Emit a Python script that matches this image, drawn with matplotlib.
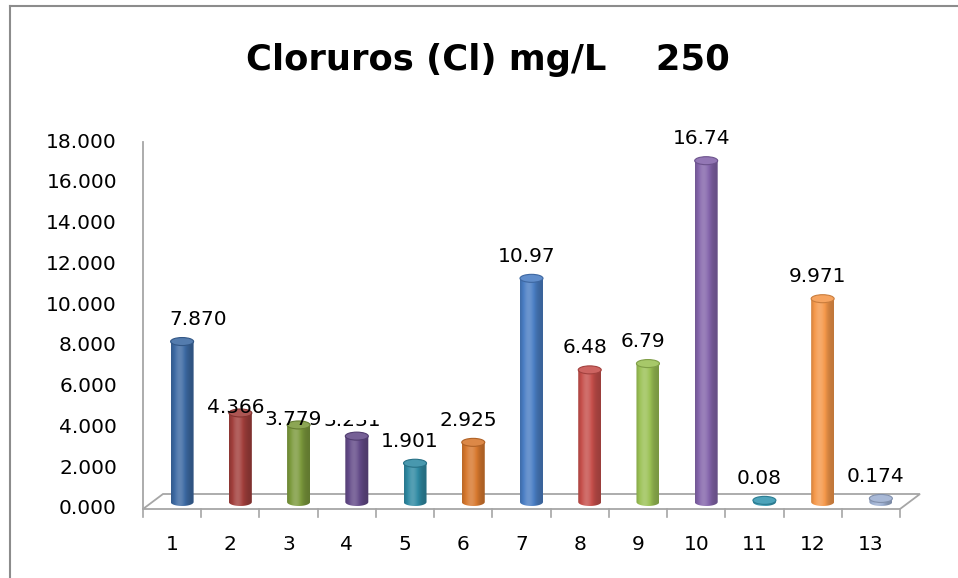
import numpy as np
import matplotlib
matplotlib.use("Agg")
import matplotlib.pyplot as plt
from matplotlib.patches import Polygon, Ellipse
from matplotlib.lines import Line2D
from matplotlib.colors import to_rgb
from matplotlib.transforms import Bbox

# ---- data ----
categories = ["1", "2", "3", "4", "5", "6", "7", "8", "9", "10", "11", "12", "13"]
values = [7.870, 4.366, 3.779, 3.231, 1.901, 2.925, 10.97, 6.48, 6.79, 16.74, 0.08, 9.971, 0.174]
value_labels = ["7.870", "4.366", "3.779", "3.231", "1.901", "2.925", "10.97", "6.48",
                "6.79", "16.74", "0.08", "9.971", "0.174"]
y_ticks = [0, 2, 4, 6, 8, 10, 12, 14, 16, 18]
title = "Cloruros (Cl) mg/L    250"

# ---- style ----
bar_colors = ["#3D6AA3", "#A23F3C", "#7C9A3D", "#634A88", "#2F8AA3", "#D7782E",
              "#4A7EC4", "#C64F4B", "#9BC155", "#8465AB", "#3597B1", "#F5984A", "#9DB0D2"]
W, H = 958, 578
fig = plt.figure(figsize=(W / 100, H / 100), dpi=100)

# plot area in pixels (front plane)
x0_px, x1_px = 143, 900
y0_px, y1_px = 509, 142
ax = fig.add_axes([x0_px / W, (H - y0_px) / H, (x1_px - x0_px) / W, (y0_px - y1_px) / H])
ax.set_xlim(0.5, 13.5)
ax.set_ylim(0, 18)
ax.axis("off")

px_x = (x1_px - x0_px) / 13.0   # pixels per category
px_y = (y0_px - y1_px) / 18.0   # pixels per value unit


def dx(p):
    return p / px_x


def dy(p):
    return p / px_y


grid_col = "#A6A6A6"
depth_x, depth_y = dx(20), dy(15)
fs = 14.5

# floor
floor = Polygon([(0.5, 0), (13.5, 0), (13.5 + depth_x, depth_y), (0.5 + depth_x, depth_y)],
                closed=True, facecolor="white", edgecolor=grid_col, lw=1.3, clip_on=False, zorder=1)
ax.add_patch(floor)
# value axis line
ax.add_line(Line2D([0.5, 0.5], [0, 18], color=grid_col, lw=1.3, clip_on=False, zorder=1))
# category tick marks
for k in range(14):
    ax.add_line(Line2D([0.5 + k, 0.5 + k], [0, -dy(8)], color=grid_col, lw=1.2,
                       clip_on=False, zorder=1))

# y tick labels
for t in y_ticks:
    ax.text(0.5 - dx(26), t, f"{t:.3f}", ha="right", va="center", fontsize=fs,
            color="black")
# category labels
for i, c in enumerate(categories):
    ax.text(i + 1, -dy(36), c, ha="center", va="center", fontsize=fs, color="black")


def shade(rgb, f):
    rgb = np.array(rgb)
    if f <= 1:
        return rgb * f
    return rgb + (1 - rgb) * (f - 1)


u = np.linspace(0, 1, 200)
factors = 0.78 + 0.4 * np.exp(-((u - 0.38) / 0.3) ** 2)

bar_w = dx(23)
ell_h = dy(8)
base = dy(7)
for i, (v, col) in enumerate(zip(values, bar_colors)):
    cx = i + 1 + dx(10)
    rgb = to_rgb(col)
    top = base + v
    t = np.linspace(np.pi, 2 * np.pi, 60)
    arc = np.column_stack([cx + bar_w / 2 * np.cos(t), base + ell_h / 2 * np.sin(t)])
    pts = np.vstack([[cx - bar_w / 2, top], arc, [cx + bar_w / 2, top]])
    clip = Polygon(pts, closed=True, facecolor="none", edgecolor="none", transform=ax.transData)
    ax.add_patch(clip)
    grad = np.array([shade(rgb, f) for f in factors])[None, :, :]
    im = ax.imshow(grad, extent=[cx - bar_w / 2, cx + bar_w / 2, base - ell_h / 2, top],
                   aspect="auto", interpolation="bilinear", zorder=2 + i * 0.01)
    im.set_clip_path(clip)
    cap = Ellipse((cx, top), bar_w, ell_h, facecolor=shade(rgb, 1.12),
                  edgecolor=shade(rgb, 0.82), lw=0.8, zorder=2.005 + i * 0.01)
    ax.add_patch(cap)

# value labels: offsets (px) from the bar top
label_dx = {0: 26}
label_dy = {1: 5, 2: 5, 3: 16}
for i, (v, lab) in enumerate(zip(values, value_labels)):
    top = base + v
    x = i + 1 + dx(label_dx.get(i, 5))
    y = top + dy(label_dy.get(i, 22))
    txt = ax.text(x, y, lab, ha="center", va="center", fontsize=fs, color="black", zorder=5)
    if i == 3:
        # only the lower part of this label stays visible
        txt.set_clip_on(True)
        txt.set_clip_box(Bbox([[0, 0], [W, H - 420]]))

fig.text(488 / W, 1 - 60 / H, title, ha="center", va="center", fontsize=25.5,
         fontweight="bold", color="black")

# chart border
border = "#8C8C8C"
fig.add_artist(Line2D([9.5 / W, 9.5 / W], [0, 1 - 5.5 / H], color=border, lw=1.5,
                      transform=fig.transFigure))
fig.add_artist(Line2D([9.5 / W, 1], [1 - 5.5 / H, 1 - 5.5 / H], color=border, lw=1.5,
                      transform=fig.transFigure))

fig.savefig("out.png", dpi=100, facecolor="white")
